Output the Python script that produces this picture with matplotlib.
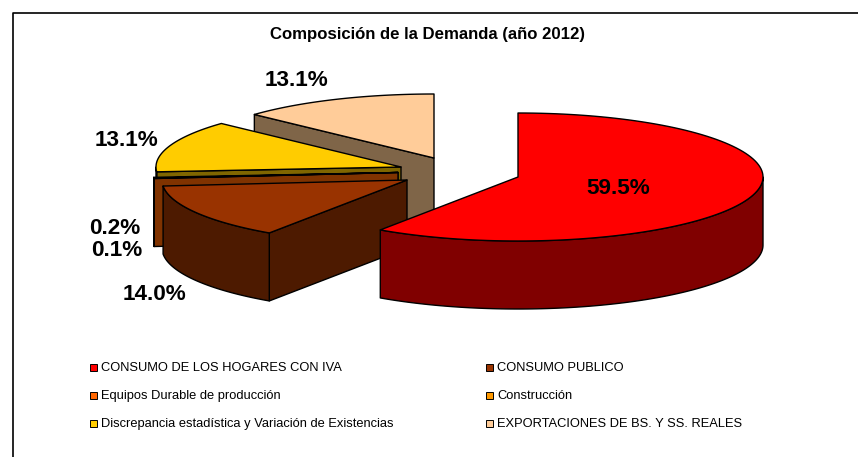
import numpy as np
import matplotlib
import matplotlib.pyplot as plt
from matplotlib.patches import Polygon, Rectangle

matplotlib.use('Agg')

categories = ['CONSUMO DE LOS HOGARES CON IVA', 'CONSUMO PUBLICO',
              'Equipos Durable de producción', 'Construcción',
              'Discrepancia estadística y Variación de Existencias',
              'EXPORTACIONES DE BS. Y SS. REALES']
shares = [59.5, 14.0, 0.1, 0.2, 13.1, 13.1]
top_colors = ['#FF0000', '#993300', '#FF6600', '#FF9900', '#FFCC00', '#FFCC99']
side_colors = ['#800000', '#4D1A00', '#803300', '#803300', '#806600', '#7F6548']

# where each exploded slice has its tip, in pixels
tips = [(518, 177), (407, 180), (398, 172.5), (398, 172.5), (401, 167), (434, 158)]
label_pos = [(618, 189), (154, 294), (117, 251), (115, 229), (127, 141), (297, 81)]
legend_pos = [(93, 367), (489, 367), (93, 395), (489, 395), (93, 423), (489, 423)]
RX, RY, DEPTH = 245, 64, 68


def rim(tip, t1, t2):
    t = np.radians(np.linspace(t1, t2, 120))
    return np.column_stack((tip[0] + RX * np.sin(t), tip[1] - RY * np.cos(t)))


def draw_slice(ax, tip, t1, t2, top, side):
    line = dict(edgecolor='black', linewidth=1.0, joinstyle='round')
    drop = np.array([0, DEPTH])
    start = rim(tip, t1, t1)[0]
    end = rim(tip, t2, t2)[0]
    # cut faces, only the ones looking at the viewer
    if np.sin(np.radians(t1)) < -1e-6:
        ax.add_patch(Polygon([start, tip, tip + drop, start + drop], facecolor=side, **line))
    if np.sin(np.radians(t2)) > 1e-6:
        ax.add_patch(Polygon([end, tip, tip + drop, end + drop], facecolor=side, **line))
    # outer wall on the front half
    a1, a2 = max(t1, 90), min(t2, 270)
    if a2 > a1:
        arc = rim(tip, a1, a2)
        ax.add_patch(Polygon(np.vstack((arc, (arc + drop)[::-1])), facecolor=side, **line))
    ax.add_patch(Polygon(np.vstack(([tip], rim(tip, t1, t2))), facecolor=top, **line))


fig = plt.figure(figsize=(8.58, 4.57), dpi=100)
ax = fig.add_axes([0, 0, 1, 1])
ax.set_xlim(0, 858)
ax.set_ylim(457, 0)
ax.axis('off')
plt.rcParams['font.family'] = ['Liberation Sans', 'DejaVu Sans']

# chart frame, only left and top show in the crop
ax.plot([13, 13, 858], [457, 12.5, 12.5], color='black', lw=1.2)

edges = np.concatenate(([0], np.cumsum(shares))) * 360 / sum(shares)
for i in [5, 4, 3, 2, 1, 0]:
    draw_slice(ax, np.array(tips[i], dtype=float), edges[i], edges[i + 1], top_colors[i], side_colors[i])

for value, pos in zip(shares, label_pos):
    ax.text(pos[0], pos[1], '{:.1f}%'.format(value), fontsize=16.2, fontweight='bold',
            ha='center', va='center', color='black')

ax.text(428, 34, 'Composición de la Demanda (año 2012)', fontsize=12.1, fontweight='bold',
        ha='center', va='center')

for name, color, pos in zip(categories, top_colors, legend_pos):
    ax.add_patch(Rectangle((pos[0] - 3.5, pos[1] - 3.5), 7, 7, facecolor=color, edgecolor='black', lw=0.7))
    ax.text(pos[0] + 8, pos[1] + 1, name, fontsize=9.25, ha='left', va='center', color='black')

fig.savefig('out.png', dpi=100)
plt.close(fig)
